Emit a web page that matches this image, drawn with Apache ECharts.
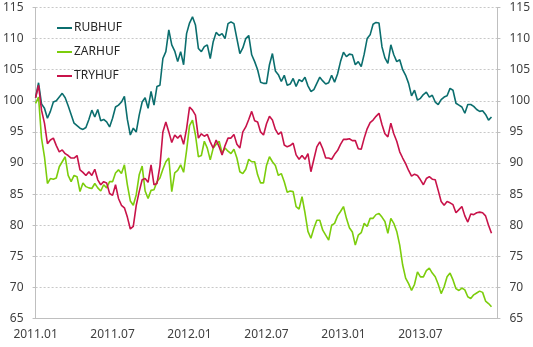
<!DOCTYPE html>
<html>
<head>
<meta charset="utf-8">
<script src="https://cdn.jsdelivr.net/npm/echarts@6/dist/echarts.min.js"></script>
<style>html,body{margin:0;padding:0;background:#fff}#c{width:533px;height:347px}</style>
</head>
<body>
<div id="c"></div>
<script>
// weekly observations, index 0 = first week of 2011.01
const tickLabels = ['2011.01','2011.07','2012.01','2012.07','2013.01','2013.07',''];
const seriesNames = ['RUBHUF','ZARHUF','TRYHUF'];
const rubhuf = [100.5,102.9,99.5,98.8,97.2,98.3,99.8,100.0,100.6,101.2,100.5,99.2,97.8,96.4,96.0,95.6,95.4,95.7,97.0,98.5,97.4,98.6,96.8,97.0,96.6,95.8,97.2,99.0,99.3,99.8,100.7,97.0,94.5,95.6,95.0,97.7,99.8,100.5,98.8,101.5,99.3,102.3,102.5,106.8,107.9,111.4,109.0,108.0,106.3,107.9,105.8,110.8,112.5,113.5,112.2,108.4,107.9,108.7,109.0,106.8,109.5,111.0,110.5,110.8,110.0,112.4,112.7,112.4,110.0,107.6,108.5,110.0,110.5,107.4,106.3,105.0,103.0,102.8,102.8,105.8,107.6,104.8,104.2,103.1,104.1,102.5,102.7,103.6,102.3,103.4,103.1,103.8,102.4,101.5,101.8,102.8,103.8,103.2,102.7,102.9,104.1,103.0,104.3,106.3,107.8,107.1,107.5,107.4,105.8,106.3,105.5,107.5,110.0,110.6,112.3,112.6,112.5,108.7,106.9,106.0,109.0,107.4,106.3,106.6,105.0,104.1,102.8,100.8,101.7,100.1,100.4,101.0,101.4,100.6,100.9,99.8,99.4,100.2,100.6,100.8,102.0,101.7,99.6,99.3,99.0,98.0,99.4,99.4,99.1,98.6,98.3,98.4,97.8,96.9,97.4];
const zarhuf = [99.6,100.6,94.0,91.0,86.7,87.5,87.4,87.6,89.4,90.2,91.0,88.0,87.0,88.0,87.8,85.4,86.8,86.2,86.0,85.9,86.7,86.0,85.5,86.5,86.0,87.0,87.0,88.4,88.9,88.3,89.7,86.5,83.9,83.2,84.9,88.1,89.5,85.5,84.3,85.6,85.7,87.0,87.6,89.0,90.2,90.8,85.4,88.4,88.8,89.7,88.5,92.0,96.0,96.9,94.5,91.0,91.2,93.5,92.4,90.5,92.4,93.0,93.5,91.6,92.4,91.9,91.5,92.2,90.8,88.6,88.3,89.0,90.6,90.2,90.2,88.1,86.8,86.8,89.6,91.0,90.2,89.6,88.0,88.3,87.0,85.3,85.5,85.4,83.0,82.6,84.6,82.0,79.0,77.9,79.5,80.8,80.8,79.2,78.4,77.6,80.0,80.3,81.5,82.2,83.0,81.1,79.6,78.9,76.8,78.4,78.8,80.3,79.8,81.1,81.1,81.7,81.9,81.3,80.6,78.7,81.1,80.3,79.0,76.8,73.6,71.5,70.6,69.5,70.5,72.5,71.7,71.7,72.7,73.1,72.3,71.7,70.5,69.0,70.1,71.7,72.3,71.2,69.8,69.5,69.9,69.6,68.5,68.2,68.8,69.1,69.4,69.2,67.8,67.4,66.9];
const tryhuf = [100.5,102.5,98.5,96.4,93.1,93.7,94.0,92.8,91.8,92.1,91.5,91.2,90.8,90.8,91.2,88.9,88.5,88.0,88.6,88.0,89.0,87.3,86.5,87.0,86.8,85.1,84.8,86.5,84.3,83.2,82.8,81.3,79.4,79.8,83.2,85.4,87.3,87.5,86.9,89.7,86.5,86.7,89.5,95.0,96.6,95.0,93.3,94.5,94.0,94.5,93.0,95.5,99.0,98.5,97.7,94.0,94.7,94.3,94.6,93.4,92.4,93.7,92.6,91.3,92.8,94.0,94.0,94.6,93.0,92.4,95.0,95.8,97.0,98.3,96.8,96.6,95.0,94.5,96.3,97.5,96.9,95.4,94.6,95.0,92.9,92.6,92.8,93.2,91.3,90.6,91.2,90.6,91.5,88.6,90.6,92.6,93.4,92.3,90.8,90.8,90.6,91.4,92.0,93.0,93.8,93.8,93.9,93.6,93.6,92.3,92.2,94.0,95.5,96.5,96.9,97.5,98.0,96.2,94.7,94.2,96.4,94.7,93.5,91.8,90.8,89.9,88.8,87.9,88.2,88.0,87.3,86.5,87.5,87.8,87.4,87.3,85.6,83.8,83.2,83.8,83.6,83.3,82.0,82.5,83.0,81.5,80.5,81.8,81.7,82.0,82.1,82.0,81.5,80.0,78.7];

const colors = ['#0b6e6e','#7ccd0c','#c8134a'];
const toPairs = arr => arr.map((v, i) => [i, v]);

const labelFont = {fontFamily: 'Noto Sans', fontSize: 12, color: '#404040'};
const yAxisBase = {
  type: 'value', min: 65, max: 115, interval: 5,
  axisLine: {show: true, lineStyle: {color: '#bfbfbf', width: 1}},
  axisTick: {show: true, length: 3, lineStyle: {color: '#bfbfbf'}},
  axisLabel: Object.assign({margin: 12}, labelFont)
};

const chart = echarts.init(document.getElementById('c'), null, {renderer: 'canvas'});
chart.setOption({
  animation: false,
  color: colors,
  grid: {left: 33, right: 33, top: 7.5, bottom: 28.5, containLabel: false},
  legend: {
    orient: 'vertical', left: 52, top: 17,
    itemWidth: 15, itemHeight: 2, itemGap: 12,
    icon: 'rect',
    textStyle: {fontFamily: 'Noto Sans', fontSize: 12, color: '#262626', padding: [0, 0, 0, -3]},
    data: seriesNames
  },
  xAxis: {
    type: 'value', min: 0, max: 156, interval: 26,
    axisLine: {show: true, onZero: false, lineStyle: {color: '#bfbfbf'}},
    axisTick: {show: false},
    splitLine: {show: false},
    axisLabel: Object.assign({margin: 10, showMaxLabel: false,
      formatter: v => tickLabels[Math.round(v / 26)] || ''}, labelFont)
  },
  yAxis: [
    Object.assign({}, yAxisBase, {position: 'left',
      splitLine: {show: true, lineStyle: {color: '#c8c8c8', type: [2, 2], width: 1}}}),
    Object.assign({}, yAxisBase, {position: 'right', splitLine: {show: false}})
  ],
  series: [
    {name: seriesNames[0], type: 'line', data: toPairs(rubhuf), showSymbol: false, lineStyle: {width: 1.6}},
    {name: seriesNames[1], type: 'line', data: toPairs(zarhuf), showSymbol: false, lineStyle: {width: 1.6}},
    {name: seriesNames[2], type: 'line', data: toPairs(tryhuf), showSymbol: false, lineStyle: {width: 1.6}}
  ]
});
</script>
</body>
</html>
